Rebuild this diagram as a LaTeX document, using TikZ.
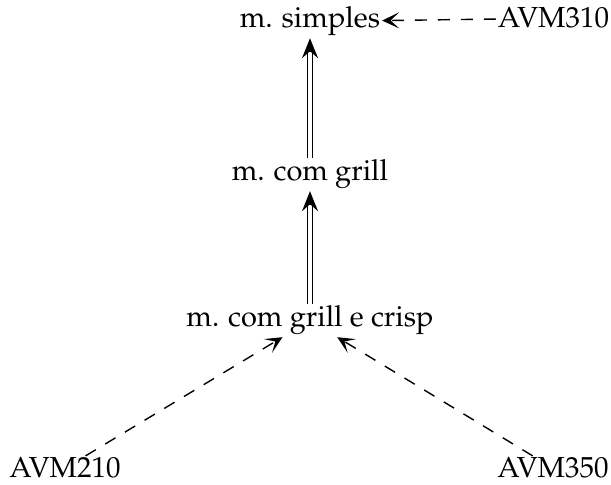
\documentclass[tikz,border=0pt]{standalone}
\usepackage[T1]{fontenc}
\usepackage{mathpazo}
\usetikzlibrary{arrows.meta,calc}
\begin{document}
\begin{tikzpicture}[x=0.5pt,y=-0.5pt,
  lbl/.style={anchor=base, inner sep=0.8pt, font=\fontsize{14.5}{17}\selectfont},
  dsh/.style={line width=0.7pt, dash pattern=on 6pt off 5.5pt,
    -{Stealth[length=8.5pt,width=8pt,inset=4.3pt]}},
  dbl/.style={double, double distance=1.7pt, line width=0.65pt, shorten >=5pt},
  dtip/.style={line width=0.7pt, -{Stealth[length=10pt,width=8pt,inset=3.5pt]}}
]
\useasboundingbox (0,0) rectangle (611,485);
\node[lbl] (ms)   at (310,28)  {m. simples};
\node[lbl] (a310) at (553.5,28) {AVM310};
\node[lbl] (cg)   at (310,181) {m. com grill};
\node[lbl] (cgec) at (310,327) {m. com grill e crisp};
\node[lbl] (a210) at (65,478)  {AVM210};
\node[lbl] (a350) at (553,478) {AVM350};

\draw[dsh] (a310) -- (ms);
\draw[dbl] (cg.north) -- (ms.south);
\draw[dtip] ($(ms.south)+(0,14)$) -- (ms.south);
\draw[dbl] (cgec.north) -- (cg.south);
\draw[dtip] ($(cg.south)+(0,14)$) -- (cg.south);
\draw[dsh] (a210) -- (cgec);
\draw[dsh] (a350) -- (cgec);
\end{tikzpicture}
\end{document}
